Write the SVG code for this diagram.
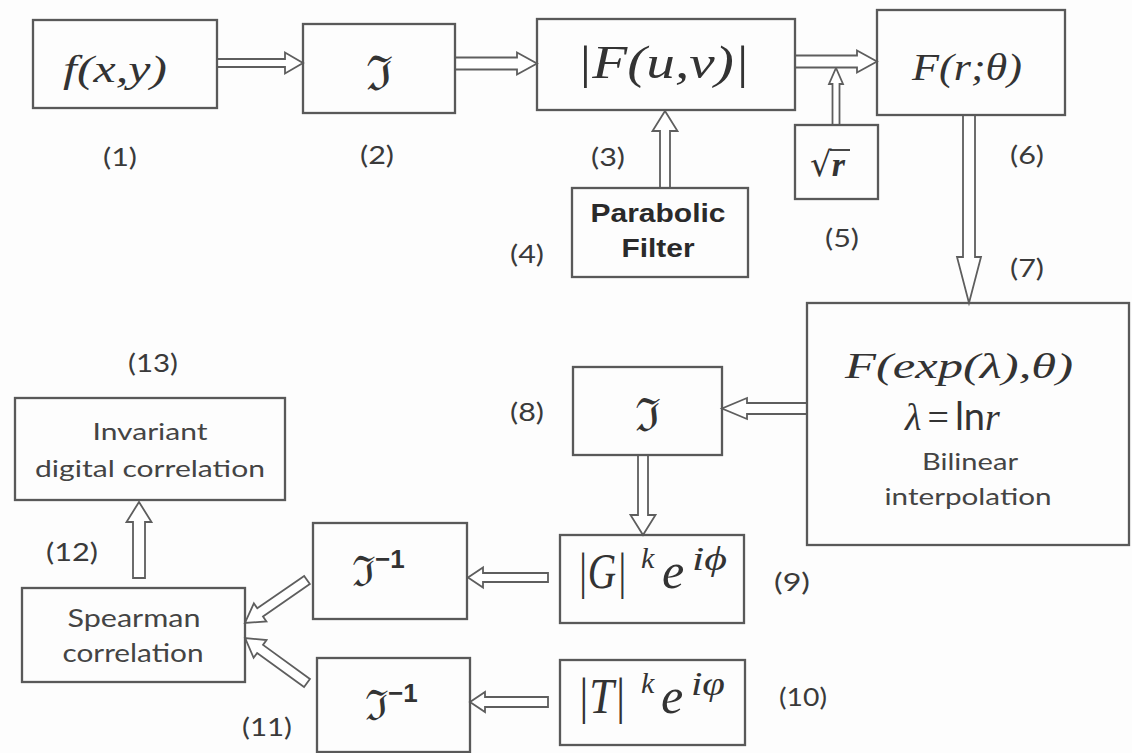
<svg xmlns="http://www.w3.org/2000/svg" width="1132" height="753" viewBox="0 0 1132 753">
<style>
.box{fill:none;stroke:#595959;stroke-width:2.3}
.arr{fill:#fff;stroke:#5e5e5e;stroke-width:1.8;stroke-linejoin:miter}
.lbl{font-family:Lato,"Open Sans",sans-serif;font-size:25px;fill:#3a3a3a;text-anchor:middle}
.m{font-family:"Liberation Serif",serif;font-style:italic;fill:#333}
.fr{font-family:"DejaVu Serif",serif;fill:#333}
.sans{font-family:Lato,"Open Sans",sans-serif;fill:#444;text-anchor:middle}
.pb{font-family:"Liberation Sans",Arial,sans-serif;font-weight:bold;fill:#2a2a2a;text-anchor:middle;font-size:25px}
</style>
<rect width="1132" height="753" fill="#fdfdfd"/>
<g id="connectors">
<polygon class="arr" points="217,59 285,59 285,52.5 303,63 285,73.5 285,67 217,67"/>
<polygon class="arr" points="455,57.5 517,57.5 517,52.5 537,63.5 517,74.5 517,69.5 455,69.5"/>
<polygon class="arr" points="832.5,125 832.5,84 829,84 836,68 843,84 839.5,84 839.5,125"/>
<polygon class="arr" points="795,55.5 857,55.5 857,50.5 877,61.5 857,72.5 857,67.5 795,67.5"/>
<polygon class="arr" points="660,188 660,131 652.5,131 665,111 677.5,131 670,131 670,188"/>
<polygon class="arr" points="963,115 963,257 957,257 969,303 981,257 975,257 975,115"/>
<polygon class="arr" points="807,403 747,403 747,398 722,408.5 747,419 747,414 807,414"/>
<polygon class="arr" points="638,455 638,515 630.5,515 643,535 655.5,515 648,515 648,455"/>
<polygon class="arr" points="548,573 483,573 483,567.5 468,577.5 483,587.5 483,582 548,582"/>
<polygon class="arr" points="548,697 485,697 485,692 470,702 485,712 485,707 548,707"/>
<polygon class="arr" points="133,578 133,522 126.5,522 139,502 151.5,522 145,522 145,578"/>
<polygon class="arr" transform="translate(307,580) rotate(145.3)" points="0,-5 57,-5 57,-11 75.5,0 57,11 57,5 0,5"/>
<polygon class="arr" transform="translate(307,683) rotate(-144)" points="0,-5 58,-5 58,-11 76.5,0 58,11 58,5 0,5"/>
</g>
<g id="n1"><rect class="box" x="33" y="20" width="184" height="88"/>
<text class="m" x="115" y="82" font-size="38" text-anchor="middle" textLength="104" lengthAdjust="spacingAndGlyphs">f(x,y)</text></g>
<g id="n2"><rect class="box" x="303" y="24" width="152" height="89"/>
<text class="fr" x="379" y="90" font-size="48" text-anchor="middle">ℑ</text></g>
<g id="n3"><rect class="box" x="537" y="19" width="258" height="91"/>
<text class="m" x="663" y="78" font-size="46" text-anchor="middle" textLength="173" lengthAdjust="spacingAndGlyphs">|F(u,v)|</text></g>
<g id="n4"><rect class="box" x="572" y="188" width="176" height="89"/>
<text class="pb" x="658" y="222" textLength="135" lengthAdjust="spacingAndGlyphs">Parabolic</text>
<text class="pb" x="658" y="257" textLength="73" lengthAdjust="spacingAndGlyphs">Filter</text></g>
<g id="n5"><rect class="box" x="795" y="125" width="83" height="74"/>
<text x="810" y="176" font-size="34"><tspan class="fr">√</tspan><tspan class="m" font-weight="bold">r</tspan></text>
<line x1="830" y1="150" x2="850" y2="150" stroke="#333" stroke-width="1.8"/></g>
<g id="n6"><rect class="box" x="877" y="10" width="188" height="105"/>
<text class="m" x="967" y="80" font-size="38" text-anchor="middle" textLength="110" lengthAdjust="spacingAndGlyphs">F(r;θ)</text></g>
<g id="n7"><rect class="box" x="807" y="303" width="322" height="242"/>
<text class="m" x="959" y="378" font-size="35" text-anchor="middle" textLength="228" lengthAdjust="spacingAndGlyphs">F(exp(λ),θ)</text>
<text x="905" y="430" font-size="38"><tspan class="m">λ</tspan><tspan font-family="Liberation Serif" fill="#333" dx="6">=</tspan><tspan font-family="Lato,sans-serif" fill="#333" dx="6">ln</tspan><tspan class="m">r</tspan></text>
<text class="sans" x="970" y="470" font-size="24" textLength="96" lengthAdjust="spacingAndGlyphs">Bilinear</text>
<text class="sans" x="968" y="505" font-size="24" textLength="167" lengthAdjust="spacingAndGlyphs">interpolation</text></g>
<g id="n8"><rect class="box" x="573" y="367" width="149" height="88"/>
<text class="fr" x="648" y="431" font-size="46" text-anchor="middle">ℑ</text></g>
<g id="n9"><rect class="box" x="560" y="535" width="184" height="88"/>
<text class="m" y="588" font-size="50"><tspan x="577" textLength="50" lengthAdjust="spacingAndGlyphs">|G|</tspan><tspan x="641" y="568" font-size="30">k</tspan><tspan x="662" y="588">e</tspan><tspan x="692" y="570" font-size="34" textLength="35" lengthAdjust="spacingAndGlyphs">iϕ</tspan></text></g>
<g id="n10"><rect class="box" x="560" y="660" width="185" height="85"/>
<text class="m" y="713" font-size="50"><tspan x="577" textLength="49" lengthAdjust="spacingAndGlyphs">|T|</tspan><tspan x="641" y="693" font-size="30">k</tspan><tspan x="661" y="713">e</tspan><tspan x="691" y="695" font-size="34" textLength="34" lengthAdjust="spacingAndGlyphs">iφ</tspan></text></g>
<g id="n11a"><rect class="box" x="313" y="523" width="154" height="96"/>
<text class="fr" x="352" y="586" font-size="42">ℑ<tspan font-family="Liberation Sans,sans-serif" font-weight="bold" font-size="26" dy="-18">−1</tspan></text></g>
<g id="n11b"><rect class="box" x="317" y="658" width="153" height="94"/>
<text class="fr" x="365" y="720" font-size="42">ℑ<tspan font-family="Liberation Sans,sans-serif" font-weight="bold" font-size="26" dy="-18">−1</tspan></text></g>
<g id="n12"><rect class="box" x="22" y="588" width="223" height="94"/>
<text class="sans" x="134" y="627" font-size="25" textLength="133" lengthAdjust="spacingAndGlyphs">Spearman</text>
<text class="sans" x="133" y="662" font-size="25" textLength="141" lengthAdjust="spacingAndGlyphs">correlation</text></g>
<g id="n13"><rect class="box" x="15" y="398" width="270" height="102"/>
<text class="sans" x="150" y="440" font-size="24" textLength="115" lengthAdjust="spacingAndGlyphs">Invariant</text>
<text class="sans" x="150" y="477" font-size="24" textLength="230" lengthAdjust="spacingAndGlyphs">digital correlation</text></g>
<g id="labels">
<text class="lbl" x="120" y="166" textLength="34" lengthAdjust="spacingAndGlyphs">(1)</text>
<text class="lbl" x="377" y="164" textLength="34" lengthAdjust="spacingAndGlyphs">(2)</text>
<text class="lbl" x="608" y="166" textLength="34" lengthAdjust="spacingAndGlyphs">(3)</text>
<text class="lbl" x="527" y="263" textLength="34" lengthAdjust="spacingAndGlyphs">(4)</text>
<text class="lbl" x="842" y="247" textLength="34" lengthAdjust="spacingAndGlyphs">(5)</text>
<text class="lbl" x="1027" y="164" textLength="34" lengthAdjust="spacingAndGlyphs">(6)</text>
<text class="lbl" x="1027" y="277" textLength="34" lengthAdjust="spacingAndGlyphs">(7)</text>
<text class="lbl" x="527" y="421" textLength="34" lengthAdjust="spacingAndGlyphs">(8)</text>
<text class="lbl" x="792" y="591" font-family="Liberation Serif" textLength="36" lengthAdjust="spacingAndGlyphs">(9)</text>
<text class="lbl" x="803" y="706" textLength="48" lengthAdjust="spacingAndGlyphs">(10)</text>
<text class="lbl" x="267" y="736" textLength="50" lengthAdjust="spacingAndGlyphs">(11)</text>
<text class="lbl" x="72" y="561" textLength="52" lengthAdjust="spacingAndGlyphs">(12)</text>
<text class="lbl" x="153" y="372" textLength="50" lengthAdjust="spacingAndGlyphs">(13)</text>
</g>
</svg>
